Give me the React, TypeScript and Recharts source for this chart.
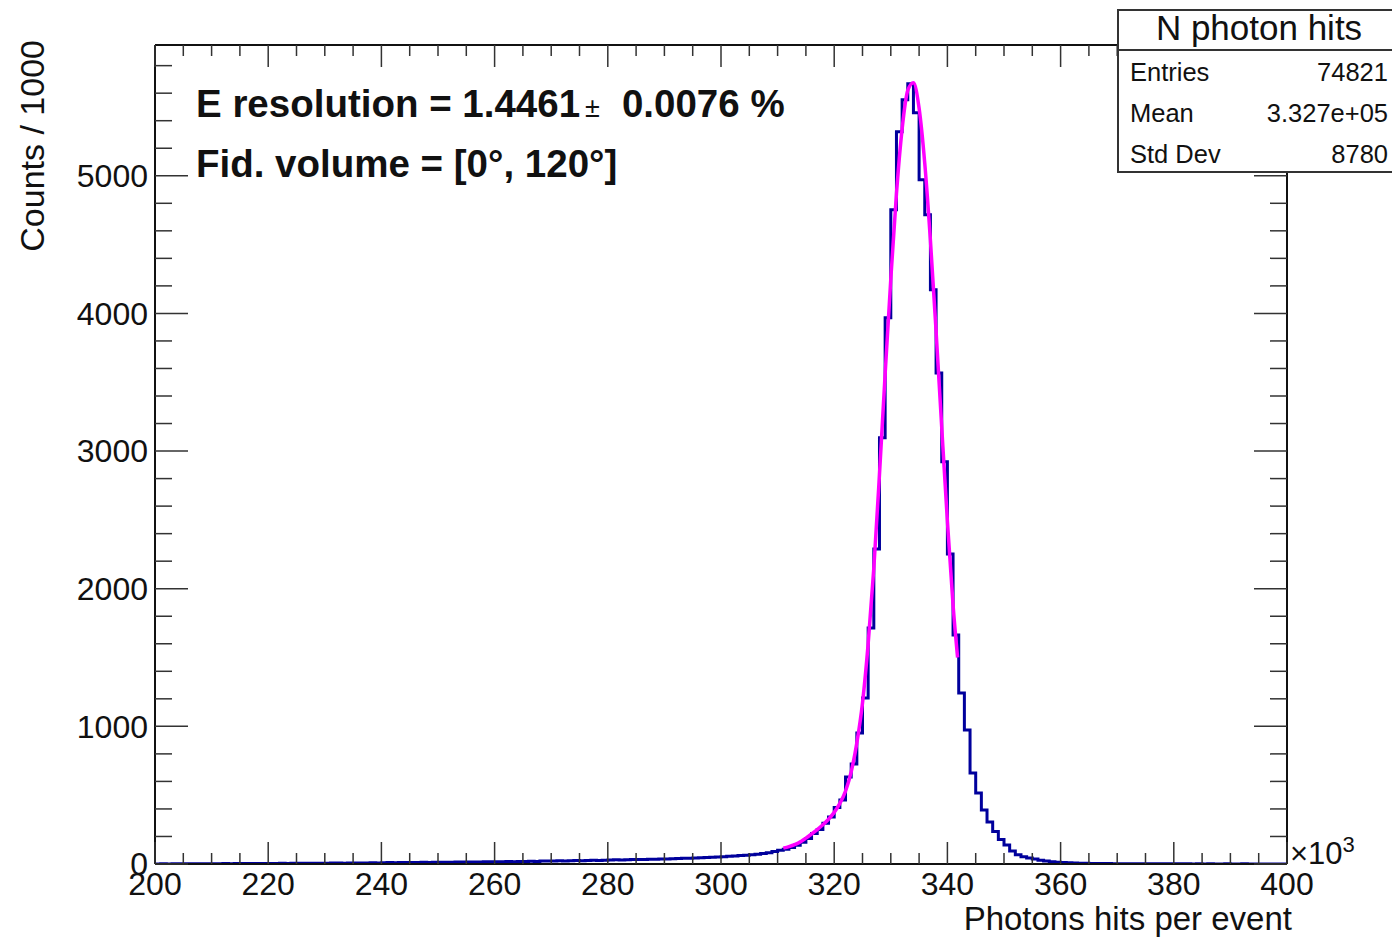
import React from "react";
import { ComposedChart, Line, XAxis, YAxis } from "recharts";

// photon hits per event, x in units of 10^3, one bin = 1000 photons
const binLow = 200;
const binHigh = 400;

// counts per bin, bins 200..399
const counts = [
  0, 1, 0, 1, 1, 1, 2, 1, 2, 2,
  2, 2, 3, 2, 3, 3, 3, 4, 3, 4,
  4, 4, 5, 4, 5, 5, 6, 5, 6, 6,
  6, 7, 7, 6, 8, 7, 8, 8, 9, 8,
  9, 10, 9, 10, 11, 10, 11, 12, 11, 12,
  13, 12, 13, 14, 14, 15, 14, 15, 16, 16,
  17, 16, 18, 17, 19, 18, 20, 19, 21, 21,
  22, 23, 22, 24, 25, 24, 26, 27, 26, 28,
  29, 30, 29, 31, 32, 33, 32, 34, 35, 36,
  37, 38, 40, 41, 42, 44, 45, 47, 49, 51,
  53, 56, 58, 61, 64, 67, 71, 76, 82, 90,
  100, 108, 120, 136, 158, 186, 222, 250, 296, 342,
  410, 465, 632, 727, 952, 1206, 1715, 2289, 3096, 3968,
  4753, 5320, 5552, 5669, 5458, 4971, 4717, 4171, 3568, 2922,
  2253, 1664, 1243, 974, 661, 516, 392, 305, 236, 178,
  138, 95, 67, 52, 43, 36, 28, 22, 17, 13,
  11, 9, 8, 6, 5, 4, 4, 3, 3, 2,
  2, 2, 2, 1, 1, 1, 1, 1, 1, 1,
  1, 1, 1, 0, 1, 0, 1, 0, 0, 1,
  0, 0, 1, 0, 0, 0, 0, 0, 0, 0,
];

// fit curve
const fitX = [
  311, 312, 313, 314, 315, 316, 317, 318, 319, 320, 321, 322, 323, 324, 325, 326,
  327, 328, 329, 330, 331, 332, 333, 334, 335, 336, 337, 338, 339, 340, 341, 341.8,
];
const fitY = [
  115, 126, 140, 160, 188, 218, 250, 285, 325, 375, 440, 530, 670, 880, 1170, 1600,
  2150, 2830, 3560, 4250, 4870, 5340, 5620, 5675, 5490, 5090, 4530, 3870, 3170, 2490, 1880, 1500,
];

const xMinor = [
  200, 205, 210, 215, 220, 225, 230, 235, 240, 245, 250, 255, 260, 265, 270, 275, 280,
  285, 290, 295, 300, 305, 310, 315, 320, 325, 330, 335, 340, 345, 350, 355, 360, 365,
  370, 375, 380, 385, 390, 395, 400,
];
const yMinor = [
  0, 200, 400, 600, 800, 1000, 1200, 1400, 1600, 1800, 2000, 2200, 2400, 2600, 2800,
  3000, 3200, 3400, 3600, 3800, 4000, 4200, 4400, 4600, 4800, 5000, 5200, 5400, 5600, 5800,
];
const xMajorStep = 20;
const yMajorStep = 1000;
const yMax = 5950;

const statRows = [
  ["Entries", "74821"],
  ["Mean", "3.327e+05"],
  ["Std Dev", "8780"],
];

const font = "'Liberation Sans', Arial, Helvetica, sans-serif";

// frame of the pad
const W = 1392;
const H = 937;
const plotLeft = 155;
const plotRight = 1287;
const plotTop = 45;
const plotBottom = 864;

const histData = counts
  .map((c, i) => ({ x: binLow + i, y: c }))
  .concat([{ x: binHigh, y: counts[counts.length - 1] }]);
const fitData = fitX.map((x, i) => ({ x, y: fitY[i] }));

const tickColor = "#333";
const frame = { stroke: "#111", strokeWidth: 2 };

// ROOT style: ticks inside the frame on all four sides
function XTick(props: any) {
  const { x, y, payload } = props;
  const v = payload.value;
  const major = v % xMajorStep === 0;
  const len = major ? 22 : 11;
  return (
    <g>
      <line x1={x} y1={plotBottom} x2={x} y2={plotBottom - len} stroke={tickColor} strokeWidth={1.5} />
      <line x1={x} y1={plotTop} x2={x} y2={plotTop + len} stroke={tickColor} strokeWidth={1.5} />
      {major && (
        <text x={x} y={y} dy="0.71em" textAnchor="middle" fontSize={32} fill="#111" fontFamily={font}>
          {v}
        </text>
      )}
    </g>
  );
}

function YTick(props: any) {
  const { x, y, payload } = props;
  const v = payload.value;
  const major = v % yMajorStep === 0;
  const len = major ? 33 : 17;
  return (
    <g>
      <line x1={plotLeft} y1={y} x2={plotLeft + len} y2={y} stroke={tickColor} strokeWidth={1.5} />
      <line x1={plotRight} y1={y} x2={plotRight - len} y2={y} stroke={tickColor} strokeWidth={1.5} />
      {major && (
        <text x={x} y={y} dy="0.355em" textAnchor="end" fontSize={32} fill="#111" fontFamily={font}>
          {v}
        </text>
      )}
    </g>
  );
}

export default function App() {
  return (
    <div style={{ position: "fixed", left: 0, top: 0, width: W, height: H, background: "#fff" }}>
      <ComposedChart
        width={W}
        height={H}
        margin={{ top: plotTop, right: W - plotRight, bottom: 0, left: 0 }}
      >
        <XAxis
          xAxisId="x"
          type="number"
          dataKey="x"
          domain={[binLow, binHigh]}
          ticks={xMinor}
          interval={0}
          allowDataOverflow
          height={H - plotBottom}
          axisLine={frame}
          tickLine={false}
          tickSize={0}
          tickMargin={8}
          tick={<XTick />}
        />
        <XAxis xAxisId="top" orientation="top" type="number" domain={[binLow, binHigh]} allowDataOverflow
          mirror height={10} axisLine={frame} tick={false} tickLine={false} />
        <YAxis
          yAxisId="y"
          type="number"
          domain={[0, yMax]}
          ticks={yMinor}
          interval={0}
          allowDataOverflow
          width={plotLeft}
          axisLine={frame}
          tickLine={false}
          tickSize={0}
          tickMargin={7}
          tick={<YTick />}
        />
        <YAxis yAxisId="right" orientation="right" type="number" domain={[0, yMax]} allowDataOverflow
          mirror width={10} axisLine={frame} tick={false} tickLine={false} />

        <Line
          xAxisId="x"
          yAxisId="y"
          data={histData}
          dataKey="y"
          type="stepAfter"
          stroke="#00009c"
          strokeWidth={3}
          dot={false}
          isAnimationActive={false}
        />
        <Line
          xAxisId="x"
          yAxisId="y"
          data={fitData}
          dataKey="y"
          type="monotone"
          stroke="#ff00ff"
          strokeWidth={3.5}
          dot={false}
          isAnimationActive={false}
        />
      </ComposedChart>

      <svg
        width={W}
        height={H}
        style={{ position: "absolute", left: 0, top: 0, pointerEvents: "none" }}
        fontFamily={font}
      >
        <text x={196} y={117} fontSize={38.5} fontWeight="bold" fill="#111">
          E resolution = 1.4461
          <tspan fontSize={27} fontWeight="normal" dx={5}>±</tspan>
          <tspan dx={22}>0.0076 %</tspan>
        </text>
        <text x={196} y={177} fontSize={38.5} fontWeight="bold" fill="#111">
          Fid. volume = [0°, 120°]
        </text>

        <text x={44} y={40} fontSize={34} fill="#111" textAnchor="end" transform="rotate(-90 44 40)">
          Counts / 1000
        </text>
        <text x={1292} y={930} fontSize={33} fill="#111" textAnchor="end">
          Photons hits per event
        </text>
        <text x={1290} y={864} fontSize={31} fill="#111">
          ×10<tspan fontSize={22} dy={-12}>3</tspan>
        </text>

        <rect x={1118} y={10} width={280} height={162} fill="#fff" stroke="#333" strokeWidth={2} />
        <line x1={1118} y1={50} x2={1398} y2={50} stroke="#333" strokeWidth={2} />
        <text x={1259} y={40} fontSize={35} fill="#111" textAnchor="middle">
          N photon hits
        </text>
        {statRows.map(([k, v], i) => (
          <g key={k}>
            <text x={1130} y={81 + i * 41} fontSize={25.5} fill="#111">{k}</text>
            <text x={1388} y={81 + i * 41} fontSize={25.5} fill="#111" textAnchor="end">{v}</text>
          </g>
        ))}
      </svg>
    </div>
  );
}
